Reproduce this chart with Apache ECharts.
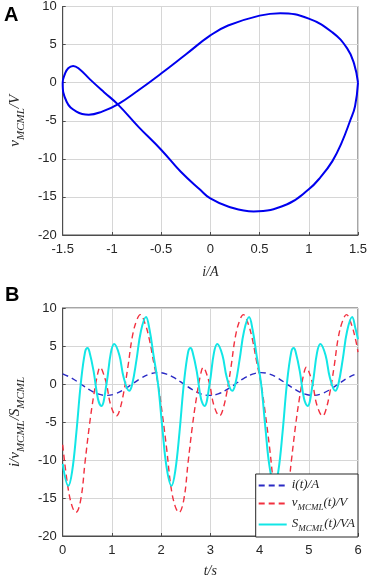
<!DOCTYPE html>
<html>
<head>
<meta charset="utf-8">
<script src="https://cdn.jsdelivr.net/npm/echarts@6/dist/echarts.min.js"></script>
<style>
  html, body { margin: 0; padding: 0; background: #fff; }
  #chart { width: 374px; height: 579px; }
</style>
</head>
<body>
<div id="chart"></div>
<script>
// panel A: v_MCML against i (closed loop)
const loopI = [1.5, 1.47, 1.42, 1.33, 1.24, 1.12, 1.0, 0.775, 0.44, 0.18, 0, -0.1, -0.3, -0.5, -0.73, -0.94, -1.08, -1.22, -1.34, -1.394, -1.444, -1.477, -1.5, -1.46, -1.36, -1.235, -1.1, -0.94, -0.73, -0.5, -0.25, 0, 0.18, 0.5, 0.71, 1.0, 1.24, 1.39, 1.46, 1.5];
const loopV = [0, -3.1, -5.0, -8.0, -10.3, -12.4, -14.0, -16.0, -16.9, -16.25, -15.2, -14.1, -11.7, -8.8, -5.8, -2.85, -1.25, 0.4, 1.9, 2.2, 1.9, 1.15, 0, -2.5, -3.8, -4.2, -3.8, -2.85, -1.0, 1.2, 3.7, 6.2, 7.5, 8.8, 9.13, 8.4, 6.6, 4.5, 2.5, 0];

// panel B: i(t)
const tI = [0, 0.192, 0.367, 0.541, 0.716, 0.890, 1.065, 1.239, 1.414, 1.588, 1.763, 1.937, 2.112, 2.286, 2.461, 2.635, 2.810, 2.985, 3.159, 3.334, 3.508, 3.683, 3.857, 4.032, 4.206, 4.381, 4.555, 4.730, 4.904, 5.079, 5.253, 5.428, 5.602, 5.777, 5.952, 6.0];
const iVals = [1.34, 0.75, 0, -0.75, -1.30, -1.5, -1.30, -0.75, 0, 0.75, 1.30, 1.5, 1.30, 0.75, 0, -0.75, -1.30, -1.5, -1.30, -0.75, 0, 0.75, 1.30, 1.5, 1.30, 0.75, 0, -0.75, -1.30, -1.5, -1.30, -0.75, 0, 0.75, 1.30, 1.39];

// panel B: v_MCML(t)
const tV = [0, 0.105, 0.192, 0.268, 0.367, 0.454, 0.541, 0.628, 0.716, 0.762, 0.803, 0.890, 0.977, 1.094, 1.152, 1.239, 1.326, 1.414, 1.501, 1.577, 1.676, 1.763, 1.850,
  1.937, 2.025, 2.112, 2.199, 2.286, 2.362, 2.461, 2.548, 2.635, 2.723, 2.810, 2.857, 2.897, 2.985, 3.072, 3.188, 3.246, 3.334, 3.421, 3.508, 3.595, 3.671, 3.770, 3.857, 3.944,
  4.032, 4.119, 4.206, 4.294, 4.381, 4.456, 4.555, 4.643, 4.730, 4.817, 4.904, 4.951, 4.992, 5.079, 5.166, 5.283, 5.341, 5.428, 5.515, 5.602, 5.690, 5.765, 5.864, 5.952, 6.0];
const vVals = [-8.0, -13.5, -16.1, -16.9, -15.2, -10.3, -5.55, -1.6, 1.5, 2.2, 1.8, 0, -2.8, -4.2, -3.55, -1.15, 2.3, 6.2, 8.35, 9.13, 7.9, 5.8, 2.8,
  0, -4.0, -8.5, -13.5, -16.1, -16.9, -15.2, -10.3, -5.55, -1.6, 1.5, 2.2, 1.8, 0, -2.8, -4.2, -3.55, -1.15, 2.3, 6.2, 8.35, 9.13, 7.9, 5.8, 2.8,
  0, -4.0, -8.5, -13.5, -16.1, -16.9, -15.2, -10.3, -5.55, -1.6, 1.5, 2.2, 1.8, 0, -2.8, -4.2, -3.55, -1.15, 2.3, 6.2, 8.35, 9.13, 7.9, 5.8, 4.2];

// panel B: S_MCML(t)
const tS = [0, 0.116, 0.192, 0.279, 0.367, 0.454, 0.506, 0.541, 0.628, 0.716, 0.785, 0.890, 0.977, 1.047, 1.152, 1.239, 1.350, 1.414, 1.501, 1.588, 1.693, 1.763, 1.850,
  1.937, 2.025, 2.112, 2.211, 2.286, 2.374, 2.461, 2.548, 2.600, 2.635, 2.723, 2.810, 2.880, 2.985, 3.072, 3.142, 3.246, 3.334, 3.444, 3.508, 3.595, 3.683, 3.787, 3.857, 3.944,
  4.032, 4.119, 4.206, 4.305, 4.381, 4.468, 4.555, 4.643, 4.695, 4.730, 4.817, 4.904, 4.974, 5.079, 5.166, 5.236, 5.341, 5.428, 5.538, 5.602, 5.690, 5.777, 5.881, 5.952, 6.0];
const sVals = [-10.5, -13.4, -11.5, -6.3, 0, 4.2, 4.75, 4.3, 1.7, -1.95, -2.9, 0, 4.06, 5.25, 3.77, 0.86, -0.9, 0, 3.24, 6.9, 8.8, 7.2, 3.6,
  0, -5.8, -11.0, -13.4, -11.5, -6.3, 0, 4.2, 4.75, 4.3, 1.7, -1.95, -2.9, 0, 4.06, 5.25, 3.77, 0.86, -0.9, 0, 3.24, 6.9, 8.8, 7.2, 3.6,
  0, -5.8, -11.0, -13.4, -11.5, -6.3, 0, 4.2, 4.75, 4.3, 1.7, -1.95, -2.9, 0, 4.06, 5.25, 3.77, 0.86, -0.9, 0, 3.24, 6.9, 8.8, 7.2, 5.9];

const seriesNames = ['i(t)/A', 'v_MCML(t)/V', 'S_MCML(t)/VA'];
const legendText = {
  'i(t)/A': '{it|i(t)/A}',
  'v_MCML(t)/V': '{it|v}{sub|MCML}{it|(t)/V}',
  'S_MCML(t)/VA': '{it|S}{sub|MCML}{it|(t)/VA}'
};

const sans = '"Liberation Sans", Arial, sans-serif';
const serif = '"Liberation Serif", "Times New Roman", serif';
const ink = '#262626';
const boxGray = '#4d4d4d';
const gridGray = '#d6d6d6';

function richText(size, subSize, gap) {
  return {
    it: { fontFamily: serif, fontStyle: 'italic', fontSize: size, lineHeight: size + 2, verticalAlign: 'top', color: ink },
    sub: { fontFamily: serif, fontStyle: 'italic', fontSize: subSize, lineHeight: subSize, padding: [gap, 0, 0, 0], verticalAlign: 'top', color: ink }
  };
}

const zip = (xs, ys) => xs.map((x, k) => [x, ys[k]]);

function mainAxis(gridIndex, pos, min, max, interval, extra) {
  return Object.assign({
    type: 'value',
    gridIndex: gridIndex,
    position: pos,
    min: min,
    max: max,
    interval: interval,
    axisLine: { show: true, onZero: false, lineStyle: { color: boxGray, width: 1 } },
    axisTick: { show: true, inside: true, length: 3, lineStyle: { color: boxGray } },
    axisLabel: { color: ink, fontFamily: sans, fontSize: 13, margin: pos === 'left' ? 6 : 8 },
    splitLine: { show: true, lineStyle: { color: gridGray } }
  }, extra || {});
}

const chart = echarts.init(document.getElementById('chart'));

chart.setOption({
  animation: false,
  backgroundColor: '#fff',
  title: [
    { text: 'A', left: 4, top: 5, padding: 0, textStyle: { fontFamily: sans, fontWeight: 'bold', fontSize: 20, color: '#000' } },
    { text: 'B', left: 5, top: 285, padding: 0, textStyle: { fontFamily: sans, fontWeight: 'bold', fontSize: 20, color: '#000' } }
  ],
  grid: [
    { left: 56, right: 16, top: 6, height: 229, show: true, borderColor: boxGray, borderWidth: 1 },
    { left: 56, right: 16, top: 308, height: 229, show: true, borderColor: boxGray, borderWidth: 1 }
  ],
  xAxis: [
    mainAxis(0, 'bottom', -1.5, 1.5, 0.5, {
      name: '{it|i/A}', nameLocation: 'middle', nameGap: 30,
      nameTextStyle: { rich: richText(14, 10, 8) }
    }),
    mainAxis(1, 'bottom', 0, 6, 1, {
      name: '{it|t/s}', nameLocation: 'middle', nameGap: 28,
      nameTextStyle: { rich: richText(14, 10, 8) }
    })
  ],
  yAxis: [
    mainAxis(0, 'left', -20, 10, 5, {
      name: '{it|v}{sub|MCML}{it|/V}', nameLocation: 'middle', nameGap: 32, nameRotate: 90,
      nameTextStyle: { rich: richText(15, 11, 8) }
    }),
    mainAxis(1, 'left', -20, 10, 5, {
      name: '{it|i/v}{sub|MCML}{it|/S}{sub|MCML}', nameLocation: 'middle', nameGap: 32, nameRotate: 90,
      nameTextStyle: { rich: richText(15, 11, 8) }
    })
  ],
  legend: {
    data: seriesNames,
    orient: 'vertical',
    right: 16,
    bottom: 42,
    backgroundColor: '#fff',
    borderColor: ink,
    borderWidth: 1,
    borderRadius: 0,
    padding: [4, 3, 4, 2],
    itemWidth: 28,
    itemHeight: 10,
    itemGap: 5,
    itemStyle: { opacity: 0 },
    formatter: name => legendText[name],
    textStyle: { rich: richText(13, 9, 7) }
  },
  series: [
    {
      name: 'loop', type: 'line', xAxisIndex: 0, yAxisIndex: 0,
      data: zip(loopI, loopV), smooth: 0.45, symbol: 'none',
      lineStyle: { color: '#0000ee', width: 2 }
    },
    {
      name: seriesNames[0], type: 'line', xAxisIndex: 1, yAxisIndex: 1,
      data: zip(tI, iVals), smooth: 0.4, symbol: 'none',
      itemStyle: { color: '#2a2ac4' },
      lineStyle: { color: '#2a2ac4', width: 1.4, type: [6, 4] }
    },
    {
      name: seriesNames[1], type: 'line', xAxisIndex: 1, yAxisIndex: 1,
      data: zip(tV, vVals), smooth: 0.4, symbol: 'none',
      itemStyle: { color: '#f2303f' },
      lineStyle: { color: '#f2303f', width: 1.4, type: [6, 4] }
    },
    {
      name: seriesNames[2], type: 'line', xAxisIndex: 1, yAxisIndex: 1,
      data: zip(tS, sVals), smooth: 0.4, symbol: 'none',
      itemStyle: { color: '#12e6e6' },
      lineStyle: { color: '#12e6e6', width: 2 }
    }
  ]
});
</script>
</body>
</html>
